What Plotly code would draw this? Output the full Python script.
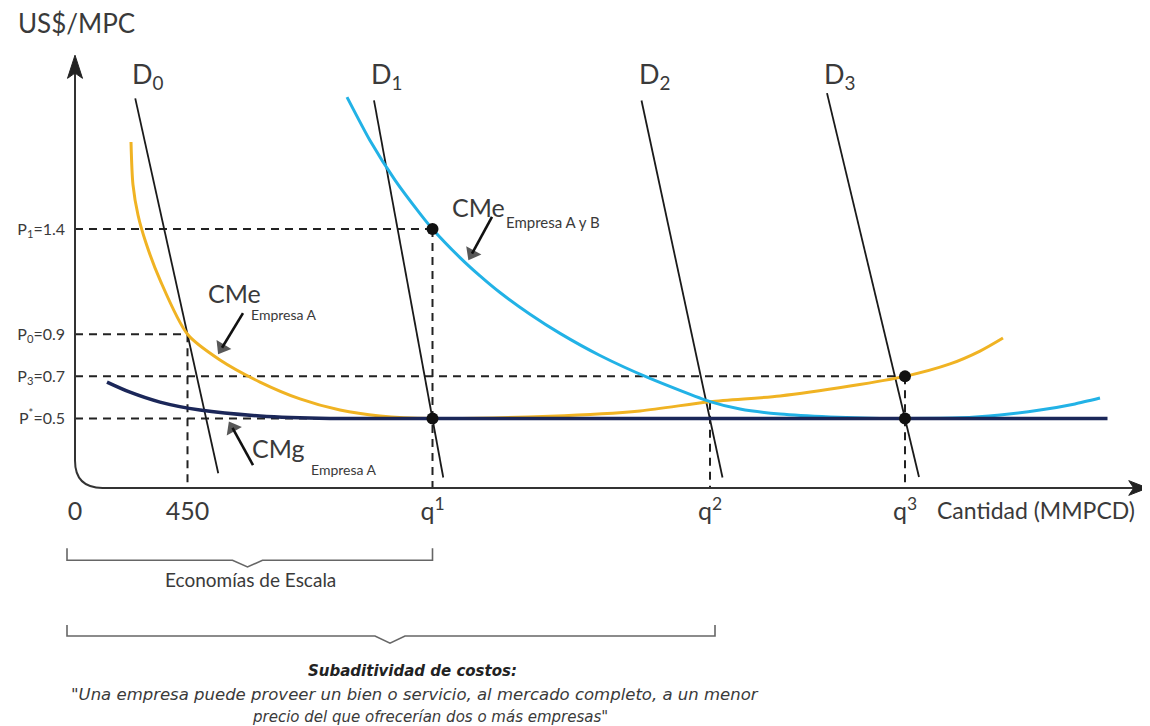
import plotly.graph_objects as go

# ---------------- data (schematic values) ----------------
q_450 = 450
q1, q2, q3 = 1430, 2540, 3320
price_levels = [1.4, 0.9, 0.7, 0.5]
price_labels = ["P<sub>1</sub>=1.4", "P<sub>0</sub>=0.9", "P<sub>3</sub>=0.7", "P<sup>*</sup>=0.5"]
x_tick_vals = [0, q_450, q1, q2, q3]
x_tick_text = ["0", "450", "q<sup>1</sup>", "q<sup>2</sup>", "q<sup>3</sup>"]

# average cost, firm A (yellow)
cme_a_q = [224, 232, 252, 284, 340, 450, 580, 740, 900, 1060, 1220, 1430, 1900, 2260, 2540, 2820, 3100, 3320, 3500, 3620, 3712]
cme_a_p = [1.813, 1.609, 1.466, 1.333, 1.158, 0.90, 0.778, 0.673, 0.593, 0.540, 0.512, 0.50, 0.511, 0.536, 0.580, 0.607, 0.654, 0.70, 0.759, 0.820, 0.882]

# average cost, firms A and B (cyan)
cme_ab_q = [1088, 1180, 1280, 1380, 1430, 1540, 1620, 1700, 1820, 1940, 2100, 2300, 2540, 2660, 2820, 3020, 3220, 3320, 3540, 3700, 3860, 4000, 4100]
cme_ab_p = [2.026, 1.820, 1.632, 1.473, 1.40, 1.264, 1.177, 1.098, 0.995, 0.904, 0.799, 0.690, 0.580, 0.545, 0.521, 0.507, 0.5005, 0.50, 0.503, 0.517, 0.540, 0.569, 0.597]

# marginal cost, firm A (navy)
cmg_a_q = [128, 220, 340, 500, 740, 1020, 4130]
cmg_a_p = [0.673, 0.625, 0.578, 0.54, 0.512, 0.50, 0.50]

# demand curves: [q_top, q_bottom], [p_top, p_bottom]
demand_names = ["0", "1", "2", "3"]
demand_q = [[241, 573], [1196, 1473], [2266, 2590], [3008, 3376]]
demand_p = [[2.02, 0.24], [2.01, 0.22], [2.01, 0.22], [2.045, 0.222]]

# equilibrium points
dot_q = [q1, q1, q3, q3]
dot_p = [1.4, 0.5, 0.7, 0.5]

# ---------------- figure ----------------
FONT = "Lato"
NOTE_FONT = "DejaVu Sans"
TXT = "#3a3a3a"
YELLOW = "#F0B323"
CYAN = "#22B2E6"
NAVY = "#1B2759"

W, H = 1142, 718
X_MIN, X_MAX = -268, 4300
Y_MIN, Y_MAX = -0.960, 2.449
BASE = 0.17          # height of the drawn horizontal axis
Y_TOP = 2.15         # top of the drawn vertical axis
X_END = 4240         # end of the drawn horizontal axis line

fig = go.Figure()

# dashed guide lines
dash = "8px,6px"
guides = [
    ([0, q1], [1.4, 1.4]),
    ([0, q_450], [0.9, 0.9]),
    ([0, q3], [0.7, 0.7]),
    ([0, q1], [0.5, 0.5]),
    ([q_450, q_450], [0.9, BASE]),
    ([q1, q1], [1.4, BASE]),
    ([q2, q2], [0.580, BASE]),
    ([q3, q3], [0.7, BASE]),
]
for gx, gy in guides:
    fig.add_trace(go.Scatter(x=gx, y=gy, mode="lines",
                             line=dict(color="#222", width=2, dash=dash),
                             hoverinfo="skip", showlegend=False))

# demand curves
for dq, dp in zip(demand_q, demand_p):
    fig.add_trace(go.Scatter(x=dq, y=dp, mode="lines",
                             line=dict(color="#1a1a1a", width=1.8),
                             hoverinfo="skip", showlegend=False))

fig.add_trace(go.Scatter(x=cme_a_q, y=cme_a_p, mode="lines",
                         line=dict(color=YELLOW, width=3, shape="spline", smoothing=0.8),
                         showlegend=False))
fig.add_trace(go.Scatter(x=cme_ab_q, y=cme_ab_p, mode="lines",
                         line=dict(color=CYAN, width=3, shape="spline", smoothing=0.6),
                         showlegend=False))
fig.add_trace(go.Scatter(x=cmg_a_q, y=cmg_a_p, mode="lines",
                         line=dict(color=NAVY, width=3.5, shape="spline", smoothing=0.8),
                         showlegend=False))
fig.add_trace(go.Scatter(x=dot_q, y=dot_p, mode="markers",
                         marker=dict(color="#111", size=12),
                         showlegend=False))

# pointer arrows (tail -> head)
for tx, ty, hx, hy in [(672, 1.00, 588, 0.836), (712, 0.279, 630, 0.455), (1668, 1.457, 1588, 1.283)]:
    fig.add_trace(go.Scatter(x=[tx, hx], y=[ty, hy], mode="lines+markers",
                             line=dict(color="#111", width=2.6),
                             marker=dict(symbol="triangle-up", size=[0, 15], angleref="previous",
                                         color="#111", line=dict(width=0)),
                             hoverinfo="skip", showlegend=False))

# axes drawn as a path with a rounded corner
fig.add_shape(type="path",
              path=f"M 0,{Y_TOP} L 0,0.30 Q 0,{BASE} 110,{BASE} L {X_END},{BASE}",
              xref="x", yref="y", line=dict(color="#333", width=2))
# arrow heads of the axes
fig.add_shape(type="path",
              path="M 0,2.225 L -30,2.115 L 0,2.14 L 30,2.115 Z",
              xref="x", yref="y", line=dict(color="#222", width=1), fillcolor="#222")
fig.add_shape(type="path",
              path=f"M 4290,{BASE} L 4215,{BASE + 0.035} L 4235,{BASE} L 4215,{BASE - 0.035} Z",
              xref="x", yref="y", line=dict(color="#222", width=1), fillcolor="#222")

annotations = []
# axis titles
annotations.append(dict(x=4, y=2.378, xref="x", yref="y", text="US$/MPC", showarrow=False,
                        font=dict(family=FONT, size=26, color=TXT)))
annotations.append(dict(x=3440, y=0.065, xref="x", yref="y", text="Cantidad (MMPCD)", showarrow=False,
                        xanchor="left", font=dict(family=FONT, size=23, color=TXT)))

# demand labels
for name, dq in zip(demand_names, demand_q):
    annotations.append(dict(x=dq[0] - 20, y=2.03, xref="x", yref="y",
                            text=f"D<sub>{name}</sub>", showarrow=False, xanchor="left",
                            yanchor="bottom", font=dict(family=FONT, size=27, color=TXT)))

# curve labels
def curve_label(xq, yp, main, sub, sub_dx, sub_dy, sub_size):
    annotations.append(dict(x=xq, y=yp, xref="x", yref="y", text=main, showarrow=False,
                            xanchor="left", font=dict(family=FONT, size=25, color=TXT)))
    annotations.append(dict(x=xq + sub_dx, y=yp + sub_dy, xref="x", yref="y", text=sub,
                            showarrow=False, xanchor="left", font=dict(family=FONT, size=sub_size, color=TXT)))

curve_label(525, 1.095, "CMe", "Empresa A", 172, -0.1, 14)
curve_label(700, 0.36, "CMg", "Empresa A", 235, -0.1, 14)
curve_label(1500, 1.505, "CMe", "Empresa A y B", 215, -0.07, 15)

# braces
def brace(x0, x1, xm, ytop, ybot, ynotch):
    d = 60
    fig.add_shape(type="path",
                  path=(f"M {x0},{ytop} L {x0},{ybot} L {xm - d},{ybot} L {xm},{ynotch} "
                        f"L {xm + d},{ybot} L {x1},{ybot} L {x1},{ytop}"),
                  xref="x", yref="y", line=dict(color="#666", width=1.6))

brace(-32, q1, 690, -0.116, -0.173, -0.205)
brace(-32, 2560, 1260, -0.48, -0.533, -0.567)

annotations.append(dict(x=700, y=-0.265, xref="x", yref="y", text="Economías de Escala", showarrow=False,
                        font=dict(family=FONT, size=19, color=TXT)))
annotations.append(dict(x=1350, y=-0.70, xref="x", yref="y", text="<b><i>Subaditividad de costos:</i></b>",
                        showarrow=False, font=dict(family=NOTE_FONT, size=15, color="#222")))
annotations.append(dict(x=1360, y=-0.812, xref="x", yref="y",
                        text="<i>\"Una empresa puede proveer un bien o servicio, al mercado completo, a un menor</i>",
                        showarrow=False, font=dict(family=NOTE_FONT, size=16.5, color=TXT)))
annotations.append(dict(x=1420, y=-0.915, xref="x", yref="y",
                        text="<i>precio del que ofrecerían dos o más empresas\"</i>",
                        showarrow=False, font=dict(family=NOTE_FONT, size=15, color=TXT)))

fig.update_layout(
    width=W, height=H, margin=dict(l=0, r=0, t=0, b=0),
    paper_bgcolor="white", plot_bgcolor="white",
    annotations=annotations, showlegend=False,
    xaxis=dict(range=[X_MIN, X_MAX], showgrid=False, zeroline=False, showline=False,
               tickvals=x_tick_vals, ticktext=x_tick_text, ticks="",
               anchor="free", position=1 - 480 / H, ticklabelstandoff=6,
               tickfont=dict(family=FONT, size=25, color=TXT), fixedrange=True),
    yaxis=dict(range=[Y_MIN, Y_MAX], showgrid=False, zeroline=False, showline=False,
               tickvals=price_levels, ticktext=price_labels, ticks="",
               anchor="free", position=67 / W, ticklabelstandoff=10,
               tickfont=dict(family=FONT, size=16, color=TXT), fixedrange=True),
)

fig.write_html("out.html")
